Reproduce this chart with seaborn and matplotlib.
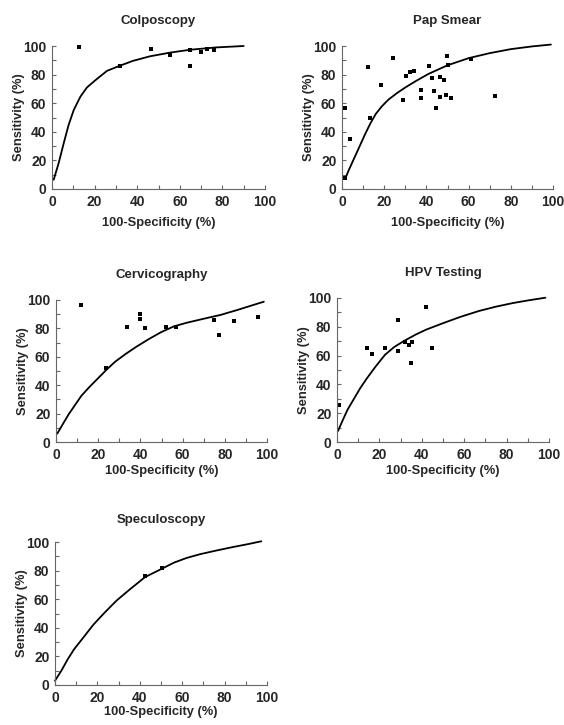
import pandas as pd
import matplotlib
matplotlib.use("Agg")
import matplotlib.pyplot as plt
import seaborn as sns

# Colposcopy
colpo_x = [12.5, 32, 46.5, 55.5, 65, 65, 70, 73, 76]
colpo_y = [99.5, 86, 98, 94, 97, 86, 95.5, 98, 97]
colpo_cx = [0.8, 3.1, 5.5, 7.8, 10.2, 13.3, 16.4, 20.3, 25.8, 32, 38, 46, 55.5, 65, 77, 90]
colpo_cy = [6.5, 18, 32, 44.8, 55.2, 64.5, 71, 76, 82.6, 86.3, 89.6, 92.8, 95.4, 97.4, 99, 100]

# Pap smear
pap_x = [1.3, 1.3, 3.6, 12.5, 13.4, 18.6, 24.2, 28.9, 30.2, 32, 34.1, 37.6, 37.6,
         41, 42.7, 43.6, 44.7, 46.3, 46.6, 48.2, 49.1, 49.9, 50.2, 51.5, 61.1, 72.7]
pap_y = [7.5, 56.4, 34.8, 85, 49.4, 72.6, 91.6, 62.4, 78.9, 81.9, 82.4, 69.1, 63.3,
         85.8, 77.7, 68.7, 56.8, 64, 78, 76.1, 65.7, 93.3, 86.5, 63.8, 90.7, 64.7]
pap_cx = [1.5, 3, 5, 7, 9, 11, 13.5, 16, 19, 22, 26, 30, 35, 41, 50, 60, 70, 80, 90, 99]
pap_cy = [7, 12.5, 19, 25.5, 32, 38.5, 46, 52.5, 58, 62.5, 67, 71, 75.5, 80.5, 86.5,
          91.5, 95, 97.8, 99.7, 101]

# Cervicography
cervi_x = [11.9, 23.7, 33.5, 39.9, 39.9, 42.2, 52, 56.8, 75, 77.2, 84.5, 95.6]
cervi_y = [96.2, 51.8, 81.2, 90, 86.6, 80.5, 81.2, 81.2, 85.9, 75.5, 85, 88]
cervi_cx = [0.6, 3, 6, 9, 12, 16, 20, 24, 28, 33, 38, 44, 50, 56, 62, 70, 78, 86, 92, 98.5]
cervi_cy = [5.9, 12, 19.5, 26, 32.5, 39, 45, 51, 56.5, 62, 67, 72.5, 77.5, 81.5, 84,
            86.8, 89.5, 93, 95.8, 98.8]

# HPV testing
hpv_x = [1, 14.2, 16.5, 22.6, 28.6, 28.8, 31.9, 33.8, 35.5, 35.1, 41.8, 44.7]
hpv_y = [26, 65.5, 61.3, 65.5, 84.7, 63.3, 69.1, 67.7, 69.3, 54.9, 93.5, 65.5]
hpv_cx = [0.5, 2.5, 5, 8, 11, 14, 18, 22.6, 27, 32, 37, 42, 50, 58, 67, 75, 83, 90, 98.3]
hpv_cy = [7.7, 14.5, 22.5, 30, 37.5, 44, 52, 60.5, 66, 70.5, 74.5, 78, 82.5, 86.8,
          91, 94, 96.5, 98.3, 100.2]

# Speculoscopy
spec_x = [42.5, 50.7]
spec_y = [75.9, 82]
spec_cx = [0, 3, 6, 9, 13, 18, 23, 29, 35, 42.5, 50.7, 56, 62, 68.5, 76, 84, 91, 97.3]
spec_cy = [3, 10, 18, 25, 32.5, 42, 50, 59, 66.5, 75.5, 81.5, 85.5, 88.8, 91.5, 94,
           96.5, 98.5, 100.5]

panels = [
    ("Colposcopy", colpo_x, colpo_y, colpo_cx, colpo_cy, [52, 265, 46, 189], 16, 6),
    ("Pap Smear", pap_x, pap_y, pap_cx, pap_cy, [342, 553, 46, 189], 16, 6),
    ("Cervicography", cervi_x, cervi_y, cervi_cx, cervi_cy, [56, 267, 300, 442], 16, 2.5),
    ("HPV Testing", hpv_x, hpv_y, hpv_cx, hpv_cy, [337, 549, 298, 442], 16, 2.5),
    ("Speculoscopy", spec_x, spec_y, spec_cx, spec_cy, [55, 267, 542, 685], 14, 1),
]

sns.set_style("ticks")
plt.rcParams["font.family"] = ["Liberation Sans", "DejaVu Sans"]
plt.rcParams["font.weight"] = "bold"

W, H = 564, 725
fig = plt.figure(figsize=(W / 100, H / 100), dpi=100)

for title, px, py, cx, cy, box, tpad, xpad in panels:
    l, r, t, b = box
    ax = fig.add_axes([l / W, 1 - b / H, (r - l) / W, (b - t) / H])
    pts = pd.DataFrame({"x": px, "y": py})
    crv = pd.DataFrame({"x": cx, "y": cy})
    sns.lineplot(data=crv, x="x", y="y", ax=ax, color="black", lw=1.3,
                 sort=False, estimator=None, clip_on=False)
    sns.scatterplot(data=pts, x="x", y="y", ax=ax, marker="s", s=12,
                    color="black", edgecolor="black", linewidth=0, clip_on=False)
    ax.set_xlim(0, 100)
    ax.set_ylim(0, 100)
    ax.set_xticks(range(0, 101, 20))
    ax.set_yticks(range(0, 101, 20))
    ax.set_xticks(range(10, 100, 20), minor=True)
    ax.set_yticks(range(10, 100, 20), minor=True)
    ax.set_xticklabels([str(v) for v in range(0, 101, 20)], fontweight="bold")
    ax.set_yticklabels([str(v) for v in range(0, 101, 20)], fontweight="bold")
    ax.tick_params(which="both", direction="in", length=3, width=0.8,
                   color="#666666", labelsize=10, pad=4)
    sns.despine(ax=ax)
    for s in ["left", "bottom"]:
        ax.spines[s].set_color("#666666")
        ax.spines[s].set_linewidth(0.8)
    ax.set_title(title, fontsize=9.5, fontweight="bold", pad=tpad)
    ax.set_xlabel("100-Specificity (%)", fontsize=9.3, fontweight="bold", labelpad=xpad)
    ax.set_ylabel("Sensitivity (%)", fontsize=9.3, fontweight="bold", labelpad=-1)

fig.savefig("out.png", dpi=100)
